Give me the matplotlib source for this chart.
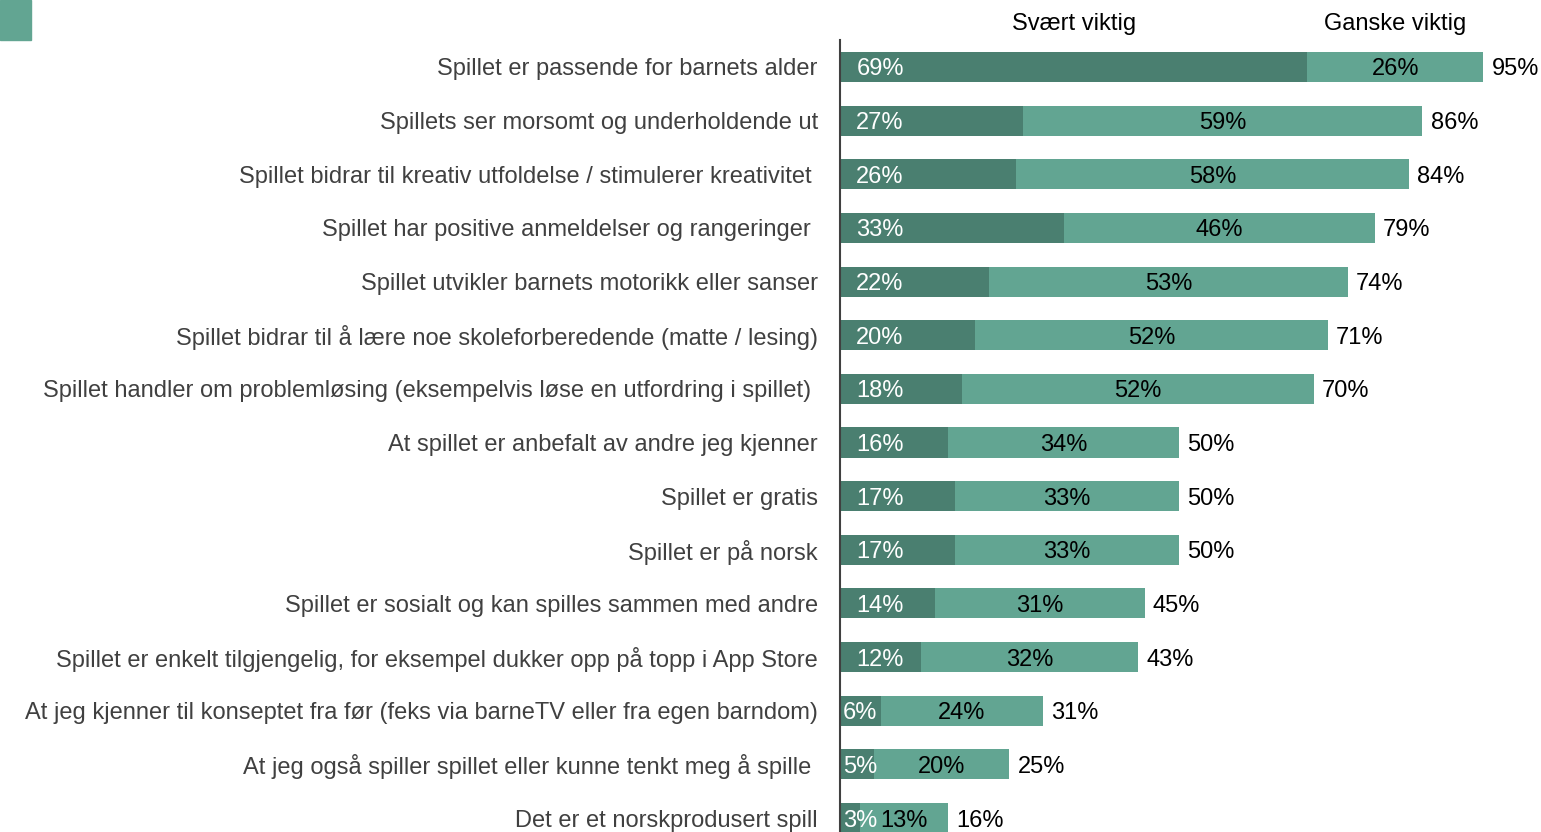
import matplotlib.pyplot as plt
from matplotlib.patches import Rectangle
import numpy as np

plt.rcParams['font.family'] = ['Liberation Sans', 'DejaVu Sans']

# Svarkategorier og andeler (%)
kategorier = [
    'Spillet er passende for barnets alder',
    'Spillets ser morsomt og underholdende ut',
    'Spillet bidrar til kreativ utfoldelse / stimulerer kreativitet ',
    'Spillet har positive anmeldelser og rangeringer ',
    'Spillet utvikler barnets motorikk eller sanser',
    'Spillet bidrar til å lære noe skoleforberedende (matte / lesing)',
    'Spillet handler om problemløsing (eksempelvis løse en utfordring i spillet) ',
    'At spillet er anbefalt av andre jeg kjenner',
    'Spillet er gratis',
    'Spillet er på norsk',
    'Spillet er sosialt og kan spilles sammen med andre',
    'Spillet er enkelt tilgjengelig, for eksempel dukker opp på topp i App Store',
    'At jeg kjenner til konseptet fra før (feks via barneTV eller fra egen barndom)',
    'At jeg også spiller spillet eller kunne tenkt meg å spille ',
    'Det er et norskprodusert spill',
]
svaert_viktig = [69, 27, 26, 33, 22, 20, 18, 16, 17, 17, 14, 12, 6, 5, 3]
ganske_viktig = [26, 59, 58, 46, 53, 52, 52, 34, 33, 33, 31, 32, 24, 20, 13]
totalt = [95, 86, 84, 79, 74, 71, 70, 50, 50, 50, 45, 43, 31, 25, 16]
serier = ['Svært viktig', 'Ganske viktig']

MORK = '#4a7f70'
LYS = '#62a592'
FS = 17

fig = plt.figure(figsize=(15.41, 8.32), dpi=100)
ax = fig.add_axes([840 / 1541, 0, 701 / 1541, 1 - 40 / 832])

y = np.arange(len(kategorier))
ax.barh(y, svaert_viktig, height=0.56, color=MORK)
ax.barh(y, ganske_viktig, left=svaert_viktig, height=0.56, color=LYS)

for i in range(len(kategorier)):
    d, l, t = svaert_viktig[i], ganske_viktig[i], totalt[i]
    if d >= 10:
        ax.text(2.4, i, f'{d}%', color='white', fontsize=FS, ha='left', va='center_baseline')
    else:
        ax.text(2.95, i, f'{d}%', color='white', fontsize=FS, ha='center', va='center_baseline')
    ax.text(d + l / 2, i, f'{l}%', color='black', fontsize=FS, ha='center', va='center_baseline')
    ax.text(d + l + 1.2, i, f'{t}%', color='black', fontsize=FS, ha='left', va='center_baseline')

# serienavn over første stolpe
ax.text(svaert_viktig[0] / 2, -0.84, serier[0], fontsize=FS, ha='center', va='center_baseline', clip_on=False)
ax.text(svaert_viktig[0] + ganske_viktig[0] / 2, -0.84, serier[1], fontsize=FS, ha='center',
        va='center_baseline', clip_on=False)

ax.set_xlim(0, 103.5)
ax.set_ylim(14.26, -0.503)
ax.set_yticks(y)
ax.set_yticklabels(kategorier, fontsize=FS, color='#404040')
ax.tick_params(axis='y', length=0, pad=16)
ax.set_xticks([])
for s in ['top', 'right', 'bottom']:
    ax.spines[s].set_visible(False)
ax.spines['left'].set_color('#404040')
ax.spines['left'].set_linewidth(1.5)

# liten fargeboks øverst til venstre
fig.patches.append(Rectangle((0, 1 - 40 / 832), 31 / 1541, 40 / 832, transform=fig.transFigure,
                             color=LYS, zorder=0))

fig.savefig('out.png', dpi=100)
